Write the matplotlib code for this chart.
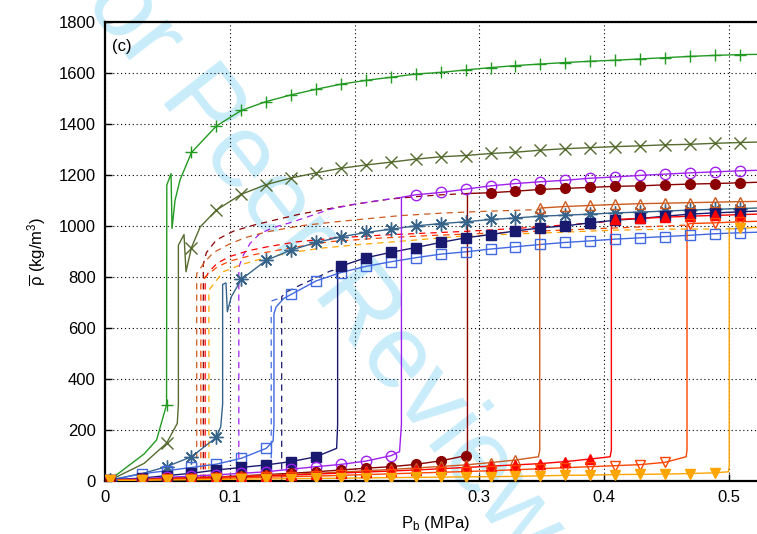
import numpy as np
import matplotlib
matplotlib.use('Agg')
import matplotlib.pyplot as plt

plt.rcParams['font.family'] = ['Liberation Sans', 'DejaVu Sans']
plt.rcParams['mathtext.fontset'] = 'custom'
plt.rcParams['mathtext.rm'] = 'Liberation Sans'
plt.rcParams['mathtext.it'] = 'Liberation Sans'
plt.rcParams['mathtext.bf'] = 'Liberation Sans:bold'

# ---------------- data ----------------
MARK_X = [0.004, 0.029, 0.049, 0.069, 0.089, 0.109, 0.129, 0.149, 0.169, 0.189,
          0.209, 0.229, 0.249, 0.269, 0.289, 0.309, 0.329, 0.349, 0.369, 0.389,
          0.409, 0.429, 0.449, 0.469, 0.489, 0.509]

green_x = [0.004, 0.031, 0.041, 0.049, 0.0492, 0.0526, 0.0534, 0.0558, 0.0598] + MARK_X[3:] + [0.523]
green_y = [5, 105, 160, 298, 1160, 1205, 990, 1100, 1180,
           1288, 1392, 1453, 1488, 1514, 1536, 1556, 1571, 1583, 1596, 1602, 1612,
           1621, 1629, 1635, 1641, 1646, 1650, 1655, 1660, 1665, 1669, 1672, 1673]

olive_x = [0.004, 0.031, 0.049, 0.0576, 0.0585, 0.0585, 0.063, 0.0646, 0.069, 0.076] + MARK_X[4:] + [0.523]
olive_y = [3, 68, 147, 225, 300, 924, 966, 820, 915, 996,
           1062, 1124, 1162, 1188, 1208, 1226, 1239, 1250, 1262, 1271, 1276,
           1284, 1289, 1297, 1303, 1307, 1311, 1314, 1318, 1320, 1324, 1327, 1329]

steel_x = [0.004, 0.031, 0.049, 0.069, 0.089, 0.0925, 0.094, 0.094, 0.0967, 0.0978, 0.101] + MARK_X[5:] + [0.523]
steel_y = [3, 30, 55, 94, 170, 212, 300, 770, 776, 663, 722,
           790, 865, 905, 935, 957, 974, 987, 1000, 1009, 1016, 1025,
           1031, 1038, 1042, 1046, 1051, 1054, 1058, 1062, 1065, 1068, 1070]

royal_x = MARK_X[:7] + [0.1345, 0.1352, 0.1352, 0.137, 0.143] + MARK_X[7:] + [0.523]
royal_y = [2, 27, 39, 52, 65, 88, 127, 155, 220, 656, 682, 715,
           731, 784, 817, 841, 859, 875, 889, 898, 909, 918, 927, 935,
           941, 948, 953, 958, 963, 969, 973, 975]

navy_x = MARK_X[:9] + [0.1855, 0.1863, 0.1863] + MARK_X[9:] + [0.523]
navy_y = [4, 10, 20, 29, 42, 52, 62, 75, 94, 127, 220, 820,
          842, 875, 896, 915, 935, 953, 966, 980, 992, 1000, 1012, 1022,
          1029, 1038, 1046, 1051, 1055, 1058]

purple_x = MARK_X[:12] + [0.236, 0.2375, 0.2375] + MARK_X[12:] + [0.523]
purple_y = [2, 8, 13, 18, 23, 29, 35, 45, 55, 64, 77, 98, 114, 220, 1112,
            1122, 1131, 1144, 1157, 1166, 1173, 1179, 1187, 1192, 1198, 1203,
            1208, 1212, 1216, 1218]

darkred_x = MARK_X[:15] + [0.2905, 0.2905] + MARK_X[15:] + [0.523]
darkred_y = [2, 6, 9, 12, 15, 19, 24, 29, 35, 42, 49, 55, 64, 78, 98, 120, 1127,
             1130, 1136, 1143, 1147, 1151, 1155, 1157, 1161, 1164, 1166, 1169, 1171]

sienna_x = MARK_X[:17] + [0.3475, 0.3485, 0.3485] + MARK_X[17:] + [0.523]
sienna_y = [2, 5, 8, 11, 14, 18, 21, 25, 29, 34, 39, 44, 50, 56, 62, 71, 81,
            94, 120, 1064,
            1070, 1076, 1080, 1084, 1087, 1089, 1091, 1093, 1095, 1096]

red_x = MARK_X[:20] + [0.405, 0.406, 0.406] + MARK_X[20:] + [0.523]
red_y = [2, 4, 7, 10, 13, 16, 19, 22, 26, 30, 34, 38, 42, 47, 52, 57, 62, 67, 75, 85,
         94, 120, 1018,
         1025, 1029, 1034, 1038, 1041, 1044, 1046]

orangered_x = MARK_X[:23] + [0.466, 0.4667, 0.4667] + MARK_X[23:] + [0.523]
orangered_y = [2, 3, 5, 7, 9, 11, 14, 16, 18, 21, 24, 27, 30, 33, 36, 39, 43, 47,
               51, 55, 59, 63, 72, 94, 120, 1003, 1009, 1012, 1016, 1018]

orange_x = MARK_X[:25] + [0.5, 0.5006, 0.5006] + MARK_X[25:] + [0.523]
orange_y = [1, 2, 3, 4, 5, 6, 7, 8, 9, 10, 11, 12, 13, 14, 15, 16, 17, 19, 21, 22,
            24, 25, 26, 28, 31, 35, 60, 988, 990, 994]

# dashed (other branch) curves
darkred_d_x = [0.0785, 0.0785, 0.081, 0.089, 0.1026, 0.119, 0.135, 0.156, 0.18, 0.204, 0.228, 0.25, 0.27, 0.2905]
darkred_d_y = [0, 850, 895, 945, 979, 1003, 1022, 1046, 1068, 1088, 1105, 1115, 1122, 1127]
purple_d_x = [0.107, 0.107, 0.1106, 0.116, 0.124, 0.135, 0.148, 0.165, 0.18, 0.2, 0.22, 0.2375]
purple_d_y = [0, 838, 885, 931, 970, 994, 1012, 1040, 1065, 1085, 1100, 1112]
sienna_d_x = [0.0732, 0.0732, 0.08, 0.0865, 0.1, 0.113, 0.129, 0.156, 0.183, 0.21, 0.236, 0.27, 0.298, 0.3485]
sienna_d_y = [0, 813, 860, 895, 930, 955, 976, 1000, 1015, 1028, 1040, 1050, 1056, 1064]
red_d_x = [0.08, 0.08, 0.083, 0.09, 0.1, 0.115, 0.13, 0.153, 0.183, 0.223, 0.287, 0.33, 0.381, 0.406]
red_d_y = [0, 795, 820, 855, 880, 903, 918, 937, 952, 964, 978, 990, 1008, 1018]
orangered_d_x = [0.0765, 0.0765, 0.08, 0.09, 0.1, 0.12, 0.15, 0.18, 0.22, 0.26, 0.3, 0.35, 0.4, 0.4667]
orangered_d_y = [0, 770, 800, 840, 862, 888, 915, 938, 952, 962, 970, 980, 990, 1003]
orange_d_x = [0.083, 0.083, 0.0945, 0.108, 0.121, 0.145, 0.172, 0.2, 0.25, 0.287, 0.35, 0.408, 0.45, 0.5006]
orange_d_y = [0, 748, 820, 846, 865, 892, 912, 925, 945, 960, 972, 983, 987, 988]
royal_d_x = [0.133, 0.133, 0.137, 0.143]
royal_d_y = [0, 705, 712, 715]
navy_d_x = [0.1414, 0.1414, 0.145, 0.156, 0.1695, 0.18, 0.1863]
navy_d_y = [0, 722, 740, 767, 797, 822, 830]

X_TICKS = [0, 0.1, 0.2, 0.3, 0.4, 0.5]
X_TICK_LABELS = ['0', '0.1', '0.2', '0.3', '0.4', '0.5']
Y_TICKS = [0, 200, 400, 600, 800, 1000, 1200, 1400, 1600, 1800]

# ---------------- styles ----------------
solid_series = [
    (green_x, green_y, '#229a22', '+', True, 9, 1.0),
    (olive_x, olive_y, '#556b2f', 'x', True, 8, 1.0),
    (steel_x, steel_y, '#36648b', (8, 2, 0), True, 10, 1.0),
    (royal_x, royal_y, '#4169e1', 's', False, 7, 1.0),
    (navy_x, navy_y, '#191970', 's', True, 7, 1.0),
    (purple_x, purple_y, '#a020f0', 'o', False, 7.5, 1.0),
    (darkred_x, darkred_y, '#8b0000', 'o', True, 7, 1.0),
    (sienna_x, sienna_y, '#cd5a1e', '^', False, 7.5, 1.0),
    (red_x, red_y, '#ff0000', '^', True, 7.5, 1.0),
    (orangered_x, orangered_y, '#ff4500', 'v', False, 7.5, 1.0),
    (orange_x, orange_y, '#ffa500', 'v', True, 7.5, 1.0),
]
dashed_series = [
    (darkred_d_x, darkred_d_y, '#8b0000'),
    (purple_d_x, purple_d_y, '#a020f0'),
    (sienna_d_x, sienna_d_y, '#cd5a1e'),
    (red_d_x, red_d_y, '#ff0000'),
    (orangered_d_x, orangered_d_y, '#ff4500'),
    (orange_d_x, orange_d_y, '#ffa500'),
    (royal_d_x, royal_d_y, '#4169e1'),
    (navy_d_x, navy_d_y, '#191970'),
]

W, H = 757, 534
fig = plt.figure(figsize=(W / 100, H / 100), dpi=100)

# watermark (behind everything, partly outside the figure as in the reference)
fig.text(303 / W, 1 - 240 / H, 'For Peer Review', rotation=-52, rotation_mode='anchor',
         ha='center', va='center', fontsize=75, color='#c9ecfb', zorder=-5,
         family='Liberation Sans')

ax = fig.add_axes([105.5 / W, (H - 480.7) / H, 0.53 * 1246 / W, (480.7 - 22) / H])
ax.patch.set_alpha(0)

for x, y, c in dashed_series:
    ax.plot(x, y, color=c, lw=0.9, dashes=(5, 4), zorder=2)

mark_arr = np.array(MARK_X)
for x, y, c, m, filled, ms, lw in solid_series:
    xa = np.array(x)
    ya = np.array(y)
    ax.plot(xa, ya, color=c, lw=lw, zorder=3)
    sel = np.array([np.any(np.isclose(v, mark_arr, atol=5e-5, rtol=0)) for v in xa])
    if filled:
        ax.plot(xa[sel], ya[sel], ls='none', marker=m, ms=ms, color=c, mec=c, mew=1.0, zorder=4)
    else:
        ax.plot(xa[sel], ya[sel], ls='none', marker=m, ms=ms, mfc='none', mec=c, mew=1.0, zorder=4)

ax.set_xlim(0, 0.53)
ax.set_ylim(0, 1800)
ax.set_xticks(X_TICKS)
ax.set_xticklabels(X_TICK_LABELS)
ax.set_yticks(Y_TICKS)
ax.tick_params(direction='in', length=5, width=1, labelsize=12, pad=7)
ax.grid(True, color='black', lw=0.8, linestyle=(0, (1, 2.5)))
ax.set_axisbelow(True)
for s in ['left', 'bottom', 'top']:
    ax.spines[s].set_linewidth(1.6)
ax.spines['right'].set_visible(False)

ax.set_xlabel(r'P$_{\mathrm{b}}$ (MPa)', fontsize=12, labelpad=6)
ax.set_ylabel(r'$\overline{\rho}$ (kg/m$^3$)', fontsize=12, labelpad=8)
ax.text(0.0094, 0.9455, '(c)', transform=ax.transAxes, fontsize=12, va='center', ha='left')

fig.savefig('out.png', dpi=100)
